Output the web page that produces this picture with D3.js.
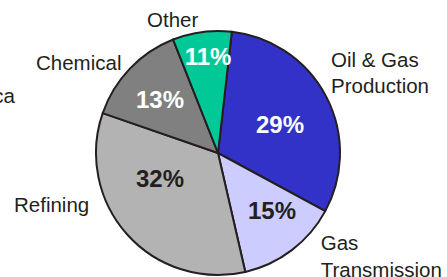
<!DOCTYPE html>
<html><head><meta charset="utf-8">
<script src="https://cdn.jsdelivr.net/npm/d3@7"></script>
<style>html,body{margin:0;padding:0;background:#fff;overflow:hidden}svg{display:block}</style>
</head><body><svg id="c" width="447" height="277"></svg>
<script>
const categories = ["Oil & Gas Production", "Gas Transmission", "Refining", "Chemical", "Other"];
const shares = [31.1, 13.5, 33.9, 13.7, 7.8];
const pctLabels = ["29%", "15%", "32%", "13%", "11%"];
const colors = ["#3232c8", "#ccccfe", "#b3b3b3", "#808080", "#00c896"];
const pctColors = ["#ffffff", "#231f20", "#231f20", "#ffffff", "#ffffff"];
const catLines = [["Oil & Gas", "Production"], ["Gas", "Transmission"], ["Refining"], ["Chemical"], ["Other"]];

const svg = d3.select("#c");
const cx = 218, cy = 153, r = 122;
const start = 6.5 * Math.PI / 180;
const pie = d3.pie().sort(null).value(d => d).startAngle(start).endAngle(start + 2 * Math.PI);
const arcs = pie(shares);
const arc = d3.arc().innerRadius(0).outerRadius(r);
const g = svg.append("g").attr("transform", `translate(${cx},${cy})`);
g.selectAll("path").data(arcs).join("path")
  .attr("d", arc).attr("fill", (d, i) => colors[i])
  .attr("stroke", "#231f20").attr("stroke-width", 2).attr("stroke-linejoin", "round");

// percentage labels (positions relative to center)
const pctPos = [[62, -20], [54, 66], [-58, 34], [-58, -45], [-10, -88]];
g.selectAll("text.pct").data(arcs).join("text").attr("class", "pct")
  .attr("x", (d, i) => pctPos[i][0]).attr("y", (d, i) => pctPos[i][1])
  .attr("text-anchor", "middle")
  .attr("font-family", "Liberation Sans, Arial, sans-serif")
  .attr("font-weight", "bold").attr("font-size", 24)
  .attr("fill", (d, i) => pctColors[i])
  .text((d, i) => pctLabels[i]);

// category labels
const catPos = [[331, 66.7], [320.7, 250], [14, 211.7], [36, 70], [147, 26.7]];
const font = "Liberation Sans, Arial, sans-serif";
catLines.forEach((lines, i) => {
  const t = svg.append("text").attr("x", catPos[i][0]).attr("y", catPos[i][1])
    .attr("font-family", font).attr("font-size", 20.5).attr("fill", "#231f20");
  lines.forEach((ln, j) => {
    t.append("tspan").attr("x", catPos[i][0]).attr("dy", j === 0 ? 0 : 26.6).text(ln);
  });
});
svg.append("text").attr("x", 15).attr("y", 103.3).attr("text-anchor", "end")
  .attr("font-family", font).attr("font-size", 20.5).attr("fill", "#231f20").text("ca");
</script></body></html>
